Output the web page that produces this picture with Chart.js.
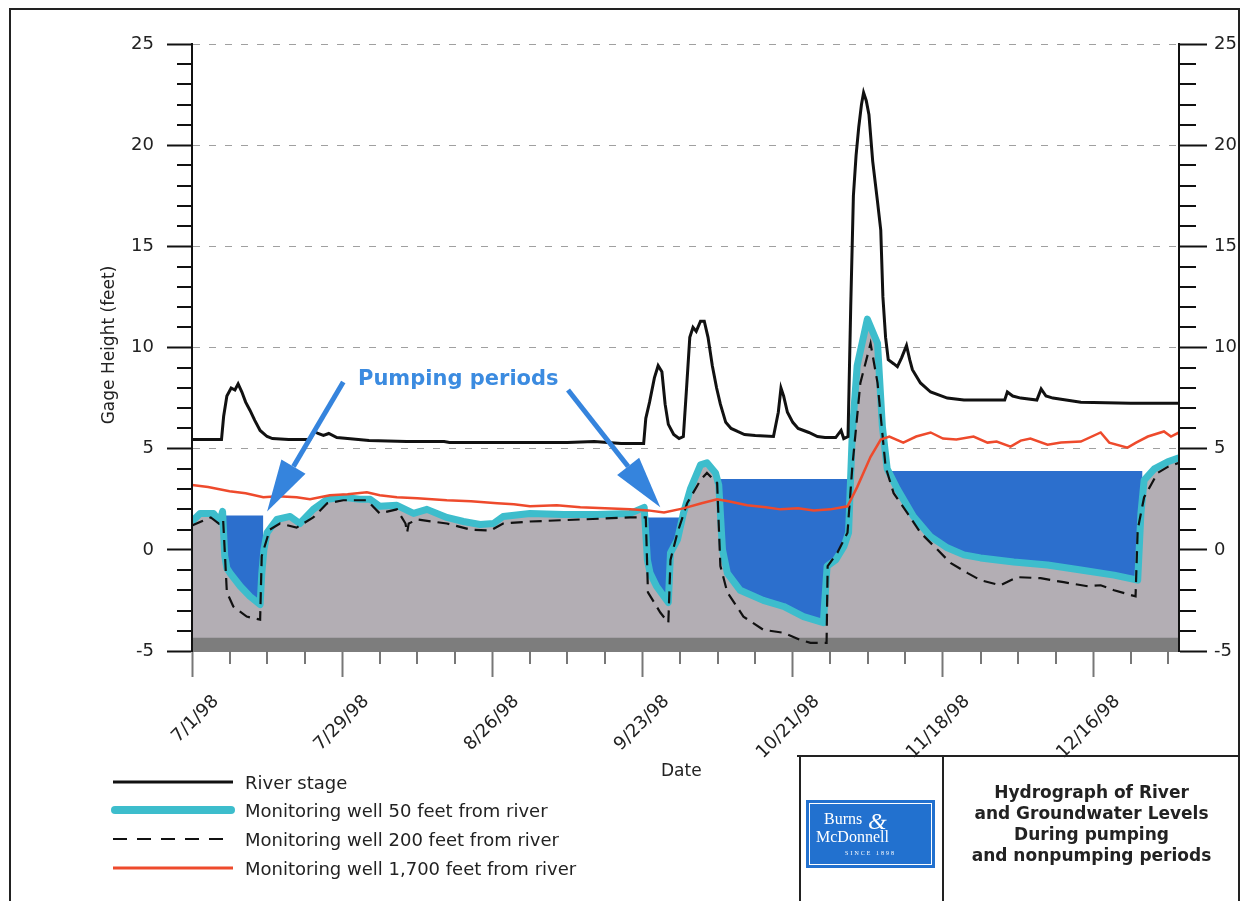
<!DOCTYPE html>
<html>
<head>
<meta charset="utf-8">
<script src="https://cdn.jsdelivr.net/npm/chart.js@4/dist/chart.umd.min.js"></script>
<style>
  body { margin: 0; background: #fff; font-family: "DejaVu Sans", sans-serif; color: #222; }
  #page { position: relative; width: 1243px; height: 901px; overflow: hidden; background: #fff; }
  #chart { position: absolute; left: 0; top: 0; }
  .abs { position: absolute; white-space: nowrap; }
  .line { position: absolute; background: #222; }
  .legRow { position: absolute; left: 110px; height: 28px; display: flex; align-items: center; font-size: 18px; color: #222; }
  .legRow svg { width: 126px; height: 12px; margin-right: 9px; }
  #logo { position: absolute; left: 806px; top: 800px; width: 129px; height: 68px; background: #2271cf; }
  #logo .inner { position: absolute; left: 3px; top: 3px; right: 3px; bottom: 3px; border: 1px solid #fff; color: #fff; font-family: "Liberation Serif", "DejaVu Serif", serif; text-align: center; }
  #title { position: absolute; left: 943px; width: 297px; top: 782px; text-align: center; font-weight: bold; font-size: 17px; line-height: 21px; color: #222; }
</style>
</head>
<body>
<div id="page">
  <canvas id="chart" width="1243" height="760"></canvas>

  <div class="abs" style="left:9px;top:8px;width:1231px;height:920px;border:2px solid #222;border-bottom:none;box-sizing:border-box;"></div>

  <div class="abs" style="left:108px;top:345px;transform:translate(-50%,-50%) rotate(-90deg);transform-origin:center;font-size:17px;">Gage Height (feet)</div>
  <div class="abs" style="left:661px;top:760px;font-size:17px;">Date</div>
  <div class="abs" style="left:358px;top:366px;font-size:21px;font-weight:bold;color:#3b8be0;">Pumping periods</div>

  <div class="legRow" style="top:768px;"><svg><line x1="3" y1="6" x2="123" y2="6" stroke="#111" stroke-width="3"/></svg>River stage</div>
  <div class="legRow" style="top:796px;"><svg><line x1="5" y1="6" x2="121" y2="6" stroke="#3dbdcc" stroke-width="8" stroke-linecap="round"/></svg>Monitoring well 50 feet from river</div>
  <div class="legRow" style="top:825px;"><svg><line x1="3" y1="6" x2="123" y2="6" stroke="#111" stroke-width="2" stroke-dasharray="14 10"/></svg>Monitoring well 200 feet from river</div>
  <div class="legRow" style="top:854px;"><svg><line x1="3" y1="6" x2="123" y2="6" stroke="#ee4a2c" stroke-width="3"/></svg>Monitoring well 1,700 feet from river</div>

  <div class="line" style="left:797px;top:755px;width:443px;height:2px;"></div>
  <div class="line" style="left:799px;top:756px;width:2px;height:150px;"></div>
  <div class="line" style="left:942px;top:756px;width:2px;height:150px;"></div>
  <div id="logo"><div class="inner">
    <div style="position:absolute;left:14px;top:6px;font-size:16px;">Burns</div>
    <div style="position:absolute;left:58px;top:4px;font-size:24px;font-style:italic;">&amp;</div>
    <div style="position:absolute;left:6px;top:24px;font-size:16px;">McDonnell</div>
    <div style="position:absolute;left:0;right:0;top:46px;font-size:6px;letter-spacing:2px;">SINCE 1898</div>
  </div></div>
  <div id="title">Hydrograph of River<br>and Groundwater Levels<br>During pumping<br>and nonpumping periods</div>
</div>

<script>
// x values are days after 7/1/98
const labelDays = [0, 28, 56, 84, 112, 140, 168]
const dateLabels = ['7/1/98', '7/29/98', '8/26/98', '9/23/98', '10/21/98', '11/18/98', '12/16/98']
const yTicks = [-5, 0, 5, 10, 15, 20, 25]

const riverDays = [0, 5.5, 5.9, 6.5, 7.3, 8.0, 8.6, 9.3, 10.0, 10.8, 11.7, 12.7, 14.0, 15.0, 18, 22, 22.8, 23.5, 24.5, 25.5, 27, 29, 33, 40, 47, 48, 60, 70, 75, 80,
  84.2, 84.6, 85.3, 86.2, 86.9, 87.6, 88.2, 88.8, 89.8, 90.8, 91.6, 92.2, 92.8, 93.4, 94.0, 94.8, 95.5, 96.2, 97.0, 97.8, 98.5, 99.5, 100.5, 101.7, 103, 105,
  108.4, 109.3, 109.8, 110.3, 111, 112, 113, 115, 116.6, 118, 120, 121, 121.5, 122.3, 122.8, 123.3, 123.8, 124.3, 124.8, 125.2, 125.7, 126.2, 126.9, 127.8,
  128.4, 128.8, 129.3, 129.8, 130.8, 131.5, 132.3, 133.2, 133.8, 134.3, 135.8, 137.7, 140.8, 143.9, 151.5, 152, 153, 154.5, 157.5, 158.3, 159.2, 160.5,
  165.7, 175, 184]
const riverStage = [5.45, 5.45, 6.6, 7.6, 8.0, 7.9, 8.2, 7.8, 7.3, 6.9, 6.4, 5.9, 5.6, 5.5, 5.45, 5.45, 5.85, 5.75, 5.65, 5.75, 5.55, 5.5, 5.4, 5.35, 5.35, 5.3, 5.3, 5.3, 5.35, 5.25,
  5.25, 6.5, 7.3, 8.5, 9.1, 8.8, 7.2, 6.2, 5.7, 5.5, 5.6, 8.0, 10.5, 11.0, 10.8, 11.3, 11.3, 10.5, 9.1, 8.0, 7.2, 6.3, 6.0, 5.85, 5.7, 5.65,
  5.6, 6.8, 8.0, 7.6, 6.8, 6.3, 6.0, 5.8, 5.6, 5.55, 5.55, 5.9, 5.5, 5.6, 12.0, 17.5, 19.5, 20.9, 22.0, 22.6, 22.2, 21.5, 19.2, 17.2,
  15.8, 12.5, 10.5, 9.4, 9.2, 9.05, 9.5, 10.1, 9.4, 8.9, 8.25, 7.8, 7.5, 7.4, 7.4, 7.8, 7.6, 7.5, 7.4, 7.95, 7.6, 7.5,
  7.3, 7.25, 7.25]

const well50Days = [0, 1.5, 4, 5.2, 5.7, 6.1, 6.5, 7.1, 9, 10.8, 12.7, 13.0, 13.4, 14, 15.8, 18.3, 20.1, 22.6, 25.2, 28.2, 31.3, 33.2, 35, 38.2, 41.3, 43.8, 47.5,
  50.6, 53.7, 56.2, 58, 63, 69.3, 75.5, 81.7, 84.3, 84.9, 85.4, 86.6, 88.8, 89.2, 90.5, 91.6, 92.9, 94.8, 96, 97.6, 98.2, 98.9, 99.8, 102.2, 106.5,
  110.3, 114, 117.7, 118.4, 120, 121.5, 122.4, 123.1, 124, 125.9, 127.8, 128.7, 129.6, 131.5, 134.5, 137.7, 140.8, 143.9, 147, 153.2, 159.5, 165.7,
  171.9, 176.3, 176.9, 177.5, 179.4, 181.9, 184]
const well50Level = [1.4, 1.8, 1.8, 1.4, 1.9, -0.3, -0.9, -1.15, -1.8, -2.3, -2.7, -1.2, 0.0, 0.85, 1.5, 1.65, 1.3, 2.0, 2.5, 2.6, 2.5, 2.5, 2.15, 2.2, 1.8, 2.0, 1.6,
  1.4, 1.25, 1.3, 1.65, 1.8, 1.75, 1.75, 1.8, 2.1, -0.5, -1.15, -1.8, -2.6, -0.15, 0.5, 1.8, 3.0, 4.2, 4.3, 3.8, 3.2, 0.0, -1.15, -2.0, -2.5,
  -2.8, -3.3, -3.6, -0.8, -0.5, 0.15, 0.85, 5.8, 9.1, 11.4, 10.2, 6.1, 4.0, 3.0, 1.65, 0.65, 0.1, -0.25, -0.4, -0.6, -0.75, -1.0,
  -1.25, -1.5, 1.8, 3.45, 4.0, 4.35, 4.55]

const well200Days = [0, 3.5, 5, 5.8, 6.5, 7.7, 10.2, 12.7, 13.0, 14.5, 16.4, 19.5, 22.6, 25.2, 28.2, 32.6, 35, 38.2, 39.8, 40.1, 40.4, 42, 47.5, 51.9, 55.6, 58,
  63, 72.4, 81.7, 84.6, 85.0, 87.3, 88.8, 89.2, 90.5, 92.3, 94.8, 96, 97.9, 98.5, 99.8, 102.8, 106.5, 110.3, 113.4, 115.3, 118.3, 118.5, 120.3, 122.2,
  123.1, 124.6, 126.5, 127.8, 129.3, 130.8, 133.4, 135.8, 139, 141.4, 144.6, 147, 150.7, 153.9, 158.2, 162.5, 167, 169.4, 171.9, 175.9, 176.3, 177.5,
  180, 181.9, 184]
const well200Level = [1.2, 1.6, 1.3, 1.5, -2.1, -2.8, -3.3, -3.45, -0.3, 1.0, 1.3, 1.1, 1.6, 2.3, 2.45, 2.45, 1.8, 2.0, 1.3, 0.85, 1.3, 1.5, 1.3, 1.0, 0.95, 1.3,
  1.4, 1.5, 1.6, 1.6, -2.1, -3.1, -3.6, -0.5, 0.85, 2.3, 3.45, 3.8, 3.3, -0.8, -2.1, -3.3, -3.95, -4.1, -4.45, -4.6, -4.6, -0.8, -0.15, 0.85,
  4.1, 8.25, 10.2, 8.25, 4.1, 2.8, 1.8, 0.85, 0.0, -0.65, -1.15, -1.5, -1.75, -1.35, -1.4, -1.6, -1.8, -1.75, -2.0, -2.3, 1.0, 2.6,
  3.8, 4.1, 4.3]

const well1700Days = [0, 3, 7, 10, 13.3, 16, 19.5, 22, 25.7, 29, 32.6, 35, 38.2, 42, 47.5, 52, 56.9, 60, 63, 68, 72.4, 77, 81.7, 85, 88, 91.6, 95, 97.9, 100,
  103.5, 107, 109.7, 113, 115.9, 119, 122.2, 124, 126.5, 128.4, 130, 132.6, 135, 137.7, 140, 142.5, 145.7, 148.3, 150, 152.6, 154.5, 156.3, 159.5, 162,
  165.7, 169.4, 171, 174.4, 176, 178.2, 181.2, 182.5, 184]
const well1700Level = [3.2, 3.1, 2.9, 2.8, 2.6, 2.65, 2.6, 2.5, 2.7, 2.75, 2.85, 2.7, 2.6, 2.55, 2.45, 2.4, 2.3, 2.25, 2.15, 2.2, 2.1, 2.05, 2.0, 1.95, 1.85, 2.05, 2.3, 2.5, 2.4,
  2.2, 2.1, 2.0, 2.05, 1.95, 2.0, 2.15, 3.1, 4.6, 5.45, 5.6, 5.3, 5.6, 5.8, 5.5, 5.45, 5.6, 5.3, 5.35, 5.1, 5.4, 5.5, 5.2, 5.3,
  5.35, 5.8, 5.3, 5.05, 5.3, 5.6, 5.85, 5.6, 5.8]

// pumping level reference (blue shading), null splits the periods
const pumpDays = [5.8, 13.3, 13.4, 84.3, 97.5, 97.5, 125, 125, 177.2]
const pumpLevel = [1.7, 1.7, null, 1.6, 1.6, 3.5, 3.5, 3.9, 3.9]

// dark strip along the bottom of the plot
const floorDays = [0, 184]
const floorLevel = [-4.35, -4.35]

// "Pumping periods" arrows, in data units
const arrowFrom = [[28.2, 8.3], [70.1, 7.9]]
const arrowTo = [[14.0, 1.9], [87.3, 2.1]]

const pair = (xs, ys) => xs.map((x, i) => ({ x, y: ys[i] }))

Chart.defaults.font.family = '"DejaVu Sans", sans-serif'
Chart.defaults.color = '#222'

const overlay = {
  id: 'overlay',
  afterDatasetsDraw(chart) {
    const { ctx, chartArea: a, scales: { x, y } } = chart
    ctx.save()
    ctx.strokeStyle = '#111'
    ctx.lineWidth = 2
    ctx.beginPath()
    ctx.moveTo(a.left, a.top); ctx.lineTo(a.left, a.bottom)
    ctx.moveTo(a.right, a.top); ctx.lineTo(a.right, a.bottom)
    for (let v = -5; v <= 25; v++) {
      if (v % 5 === 0) continue
      const py = Math.round(y.getPixelForValue(v))
      ctx.moveTo(a.left - 15, py); ctx.lineTo(a.left, py)
      ctx.moveTo(a.right, py); ctx.lineTo(a.right + 17, py)
    }
    ctx.stroke()

    ctx.strokeStyle = '#777'
    ctx.beginPath()
    for (let d = 7; d < 184; d += 7) {
      if (d % 28 === 0) continue
      const px = Math.round(x.getPixelForValue(d))
      ctx.moveTo(px, a.bottom); ctx.lineTo(px, a.bottom + 13)
    }
    ctx.stroke()

    ctx.strokeStyle = '#3584dd'
    ctx.fillStyle = '#3584dd'
    arrowFrom.forEach((f, i) => {
      const t = arrowTo[i]
      const x1 = x.getPixelForValue(f[0]), y1 = y.getPixelForValue(f[1])
      const x2 = x.getPixelForValue(t[0]), y2 = y.getPixelForValue(t[1])
      const ang = Math.atan2(y2 - y1, x2 - x1)
      const head = 52, half = 14
      const bx = x2 - head * Math.cos(ang), by = y2 - head * Math.sin(ang)
      ctx.lineWidth = 5
      ctx.beginPath(); ctx.moveTo(x1, y1); ctx.lineTo(bx, by); ctx.stroke()
      ctx.beginPath()
      ctx.moveTo(x2, y2)
      ctx.lineTo(bx + half * Math.sin(ang), by - half * Math.cos(ang))
      ctx.lineTo(bx - half * Math.sin(ang), by + half * Math.cos(ang))
      ctx.closePath()
      ctx.fill()
    })
    ctx.restore()
  }
}

const tickFont = { family: '"DejaVu Sans", sans-serif', size: 18 }

new Chart(document.getElementById('chart'), {
  type: 'line',
  data: {
    datasets: [
      { label: 'River stage', data: pair(riverDays, riverStage), borderColor: '#111', borderWidth: 3, fill: false },
      { label: 'Monitoring well 1,700 feet from river', data: pair(well1700Days, well1700Level), borderColor: '#ee4a2c', borderWidth: 2.5, fill: false },
      { label: 'Monitoring well 200 feet from river', data: pair(well200Days, well200Level), borderColor: '#111', borderWidth: 2.2, borderDash: [12, 7], fill: false },
      { label: 'floor', data: pair(floorDays, floorLevel), borderWidth: 0, borderColor: 'rgba(0,0,0,0)', backgroundColor: '#7d7d7d', fill: 'start' },
      { label: 'Monitoring well 50 feet from river', data: pair(well50Days, well50Level), borderColor: '#3dbdcc', borderWidth: 7, borderJoinStyle: 'round', backgroundColor: '#b3aeb4', fill: 'start' },
      { label: 'Pumping', data: pair(pumpDays, pumpLevel), borderWidth: 0, borderColor: 'rgba(0,0,0,0)', backgroundColor: '#2c6fcd', fill: 'start', spanGaps: false }
    ]
  },
  options: {
    responsive: false,
    animation: false,
    layout: { padding: { top: 44, left: 0, right: 0, bottom: 0 } },
    elements: { point: { radius: 0 }, line: { tension: 0 } },
    plugins: { legend: { display: false }, tooltip: { enabled: false } },
    scales: {
      x: {
        type: 'linear', min: 0, max: 184,
        afterFit(s) { s.height = 109 },
        afterBuildTicks(s) { s.ticks = labelDays.map(v => ({ value: v })) },
        ticks: {
          callback: v => dateLabels[labelDays.indexOf(v)],
          minRotation: 45, maxRotation: 45, autoSkip: false,
          labelOffset: 24, padding: 14, color: '#222', font: tickFont
        },
        grid: { drawOnChartArea: false, tickLength: 26, tickColor: '#777', tickWidth: 2 },
        border: { color: '#7d7d7d', width: 2 }
      },
      y: {
        position: 'left', min: -5, max: 25,
        afterFit(s) { s.width = 192 },
        afterBuildTicks(s) { s.ticks = yTicks.map(v => ({ value: v })) },
        ticks: { padding: 13, color: '#222', font: tickFont },
        grid: { color: '#a0a0a0', lineWidth: 1, tickLength: 25, tickColor: '#111', tickWidth: 2 },
        border: { color: '#111', width: 2, dash: [7, 9] }
      },
      y2: {
        position: 'right', min: -5, max: 25,
        afterFit(s) { s.width = 64 },
        afterBuildTicks(s) { s.ticks = yTicks.map(v => ({ value: v })) },
        ticks: { padding: 7, color: '#222', font: tickFont },
        grid: { drawOnChartArea: false, tickLength: 28, tickColor: '#111', tickWidth: 2 },
        border: { color: '#111', width: 2 }
      }
    }
  },
  plugins: [overlay]
})
</script>
</body>
</html>
